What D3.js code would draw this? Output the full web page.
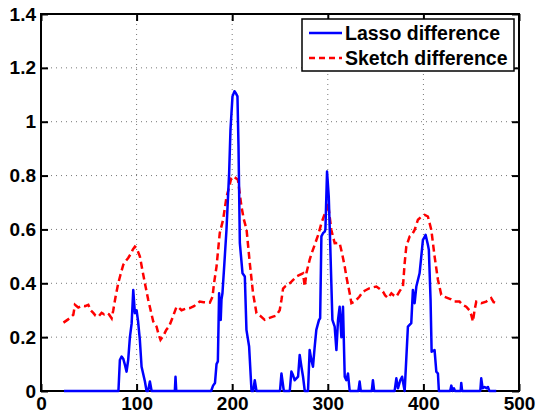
<!DOCTYPE html>
<html>
<head>
<meta charset="utf-8">
<script src="https://cdn.jsdelivr.net/npm/d3@7"></script>
<style>
  body { margin: 0; background: #fff; }
  text { font-family: "Liberation Sans", Arial, sans-serif; font-weight: bold; }
</style>
</head>
<body>
<div id="chart"></div>
<script>
// lasso difference (blue)
var lassoX = [24,81,82.5,84.3,86,87.8,89.5,91.2,93,94.8,96.5,98.2,100,101.5,103.4,105.2,108.7,110.4,112,113.9,115.7,
  140,140.7,141.5,178,180,182,183.6,185,186.3,187,188,188.8,189.8,191.6,194,196.8,198.2,200.3,202.4,204,205.5,206.6,208,
  210.8,213.2,214.9,217.7,220.2,222,223.6,225.4,250,251.5,254,260.2,261.9,263.5,265.4,268.9,270.6,272.4,274.1,275.9,
  279.3,281,282.8,284.5,286.3,288,290.8,292,293.3,295,296.8,297.5,299.2,301,302.7,304.8,307.2,309,310.7,312.4,314.2,
  315.9,317.7,319.4,321.1,322.9,332,333.3,334.5,346,347.2,348.5,369.9,371.7,373.4,375.8,377.7,380.4,383.8,387.3,389,
  390.8,392.6,396,397.8,399.5,401,402.3,404.7,405.7,407.5,408.6,411.7,413.5,415.2,416.2,428,429.2,430.5,432,433,439,
  439.6,440.5,459.5,460.5,462,464,466,467.5,469,476.2];
var lassoY = [0,0,0.115,0.128,0.12,0.097,0.072,0.115,0.2,0.25,0.375,0.289,0.3,0.26,0.19,0.09,0.035,0,0,0.035,0,
  0,0.053,0,0,0.02,0.03,0.1,0.11,0.363,0.3,0.264,0.34,0.363,0.462,0.598,0.81,0.97,1.094,1.113,1.105,1.094,0.908,0.549,
  0.437,0.425,0.227,0.165,0,0,0.04,0,0,0.065,0,0,0.072,0.06,0.04,0.053,0.134,0.09,0.053,0,
  0,0.152,0.115,0.09,0.165,0.227,0.264,0.27,0.574,0.586,0.592,0.6,0.815,0.722,0.524,0.264,0.239,0.152,0.264,0.313,0.2,
  0.313,0.053,0.04,0.065,0,0,0.035,0,0,0.04,0,0,0.047,0.01,0.04,0.053,0,0.239,0.252,0.375,
  0.326,0.388,0.437,0.5,0.561,0.57,0.58,0.543,0.524,0.338,0.146,0.152,0.072,0.065,0,0,0.02,0,0.01,0,0,
  0.03,0,0,0.047,0.01,0.015,0.01,0.015,0,0];

// sketch difference (red dashed)
var sketchX = [23.5,28,33.8,35.5,39,42.5,46,49.5,52,54.7,57,59.9,63.4,66,68.6,71,73.9,75.6,78,80.8,83,86,88,91.2,94,96,
  98.2,100,103.4,106,108.7,112.2,114,117.4,120.9,123,125,128,131,134,138,141.8,144,147,151,155.7,160,166,170,176.6,179.4,
  181,183.6,187,190.5,194,197,199,201,204,206,209.7,212,215,218.4,221.8,225.4,229,234,238,242.7,246,249.7,251.5,253.2,
  256,260.2,263,267.2,270,274.1,275.9,277.6,281,283,286.3,290,293.3,296,298.5,300.2,301.5,303.7,307.2,310,312.4,315,
  317.7,319.4,322.9,324.7,327,329.9,333,336.8,340,343.8,347,350.8,354,357.7,360,362.9,366.5,369,371.7,375,378.6,380.4,
  382.1,385.6,388,390.8,394.3,398,401.3,404.7,408.3,411.7,415.2,418.7,422,425.6,429,432.6,437.8,441,444.8,448,450,
  451.8,453.5,455.3,460.5,465.7,470.9,473.5,476.2];
var sketchY = [0.254,0.265,0.283,0.32,0.31,0.316,0.315,0.32,0.3,0.29,0.28,0.276,0.29,0.285,0.29,0.285,0.27,0.3,0.35,0.4,
  0.43,0.468,0.48,0.494,0.51,0.525,0.536,0.53,0.5,0.45,0.4,0.338,0.31,0.258,0.239,0.21,0.19,0.205,0.227,0.24,0.276,
  0.313,0.31,0.3,0.305,0.308,0.315,0.332,0.33,0.328,0.35,0.4,0.462,0.587,0.636,0.72,0.76,0.79,0.797,0.79,0.784,0.685,
  0.64,0.6,0.475,0.363,0.289,0.28,0.264,0.27,0.276,0.28,0.3,0.338,0.38,0.39,0.4,0.41,0.425,0.43,0.437,0.388,0.437,0.487,
  0.51,0.543,0.58,0.623,0.65,0.673,0.698,0.66,0.598,0.549,0.55,0.549,0.51,0.462,0.425,0.363,0.326,0.33,0.338,0.35,0.369,
  0.375,0.382,0.385,0.388,0.38,0.369,0.355,0.345,0.363,0.355,0.35,0.37,0.388,0.475,0.536,0.574,0.58,0.598,0.636,0.648,
  0.654,0.648,0.598,0.5,0.413,0.357,0.35,0.345,0.34,0.332,0.332,0.32,0.313,0.3,0.283,0.258,0.3,0.332,0.326,0.332,
  0.345,0.33,0.326];

var xTicks = [0,100,200,300,400,500];
var yTicks = [0,0.2,0.4,0.6,0.8,1,1.2,1.4];
var seriesNames = ["Lasso difference","Sketch difference"];

var width = 537, height = 415;
var margin = {top: 14, right: 18, bottom: 24, left: 41};
var w = width - margin.left - margin.right;
var h = height - margin.top - margin.bottom;

var svg = d3.select("#chart").append("svg")
    .attr("width", width)
    .attr("height", height);
var g = svg.append("g").attr("transform", "translate(" + margin.left + "," + margin.top + ")");

var x = d3.scaleLinear().domain([0,500]).range([0,w]);
var y = d3.scaleLinear().domain([0,1.4]).range([h,0]);

// dotted grid
g.selectAll(".gx").data(xTicks.slice(1,-1)).enter().append("line")
    .attr("x1", function(d){ return x(d); }).attr("x2", function(d){ return x(d); })
    .attr("y1", 0).attr("y2", h)
    .attr("stroke", "#777").attr("stroke-width", 1).attr("stroke-dasharray", "1,4");
g.selectAll(".gy").data(yTicks.slice(1,-1)).enter().append("line")
    .attr("y1", function(d){ return y(d); }).attr("y2", function(d){ return y(d); })
    .attr("x1", 0).attr("x2", w)
    .attr("stroke", "#777").attr("stroke-width", 1).attr("stroke-dasharray", "1,4");

// axes, ticks inward, mirrored on top and right
function styleAxis(sel){
    sel.select(".domain").remove();
    sel.selectAll(".tick line").attr("stroke", "#000").attr("stroke-width", 2);
    sel.selectAll(".tick text").attr("fill", "#000").style("font-size", "19px")
        .style("font-family", "'Liberation Sans', Arial, sans-serif").style("font-weight", "bold");
}
var fmt = function(d){ return String(d); };
g.append("g").attr("transform", "translate(0," + h + ")")
    .call(d3.axisBottom(x).tickValues(xTicks).tickFormat(fmt).tickSizeInner(-7).tickPadding(6))
    .call(styleAxis);
g.append("g")
    .call(d3.axisLeft(y).tickValues(yTicks).tickFormat(fmt).tickSizeInner(-7).tickPadding(5))
    .call(styleAxis);
g.append("g")
    .call(d3.axisTop(x).tickValues(xTicks).tickFormat("").tickSizeInner(-7))
    .call(styleAxis);
g.append("g").attr("transform", "translate(" + w + ",0)")
    .call(d3.axisRight(y).tickValues(yTicks).tickFormat("").tickSizeInner(-7))
    .call(styleAxis);

g.append("rect").attr("x", 0).attr("y", 0).attr("width", w).attr("height", h)
    .attr("fill", "none").attr("stroke", "#000").attr("stroke-width", 2);

var line = d3.line()
    .x(function(d){ return x(d[0]); })
    .y(function(d){ return y(d[1]); });

var lassoData = d3.zip(lassoX, lassoY);
var sketchData = d3.zip(sketchX, sketchY);

g.append("path").datum(sketchData).attr("d", line)
    .attr("fill", "none").attr("stroke", "#ff0000").attr("stroke-width", 2.5)
    .attr("stroke-dasharray", "7,4");
g.append("path").datum(lassoData).attr("d", line)
    .attr("fill", "none").attr("stroke", "#0000ff").attr("stroke-width", 2.5)
    .attr("stroke-linejoin", "round");

// legend
var lg = svg.append("g").attr("transform", "translate(302,19)");
lg.append("rect").attr("width", 212).attr("height", 52)
    .attr("fill", "#fff").attr("stroke", "#000").attr("stroke-width", 1.5);
var styles = [{c:"#0000ff", dash:null}, {c:"#ff0000", dash:"6,4"}];
seriesNames.forEach(function(name, i){
    var cy = 14 + i*25;
    lg.append("line").attr("x1", 7).attr("x2", 40).attr("y1", cy).attr("y2", cy)
        .attr("stroke", styles[i].c).attr("stroke-width", 2.5)
        .attr("stroke-dasharray", styles[i].dash);
    lg.append("text").attr("x", 43).attr("y", cy).attr("dy", "0.36em")
        .style("font-size", "19.5px").text(name);
});
</script>
</body>
</html>
